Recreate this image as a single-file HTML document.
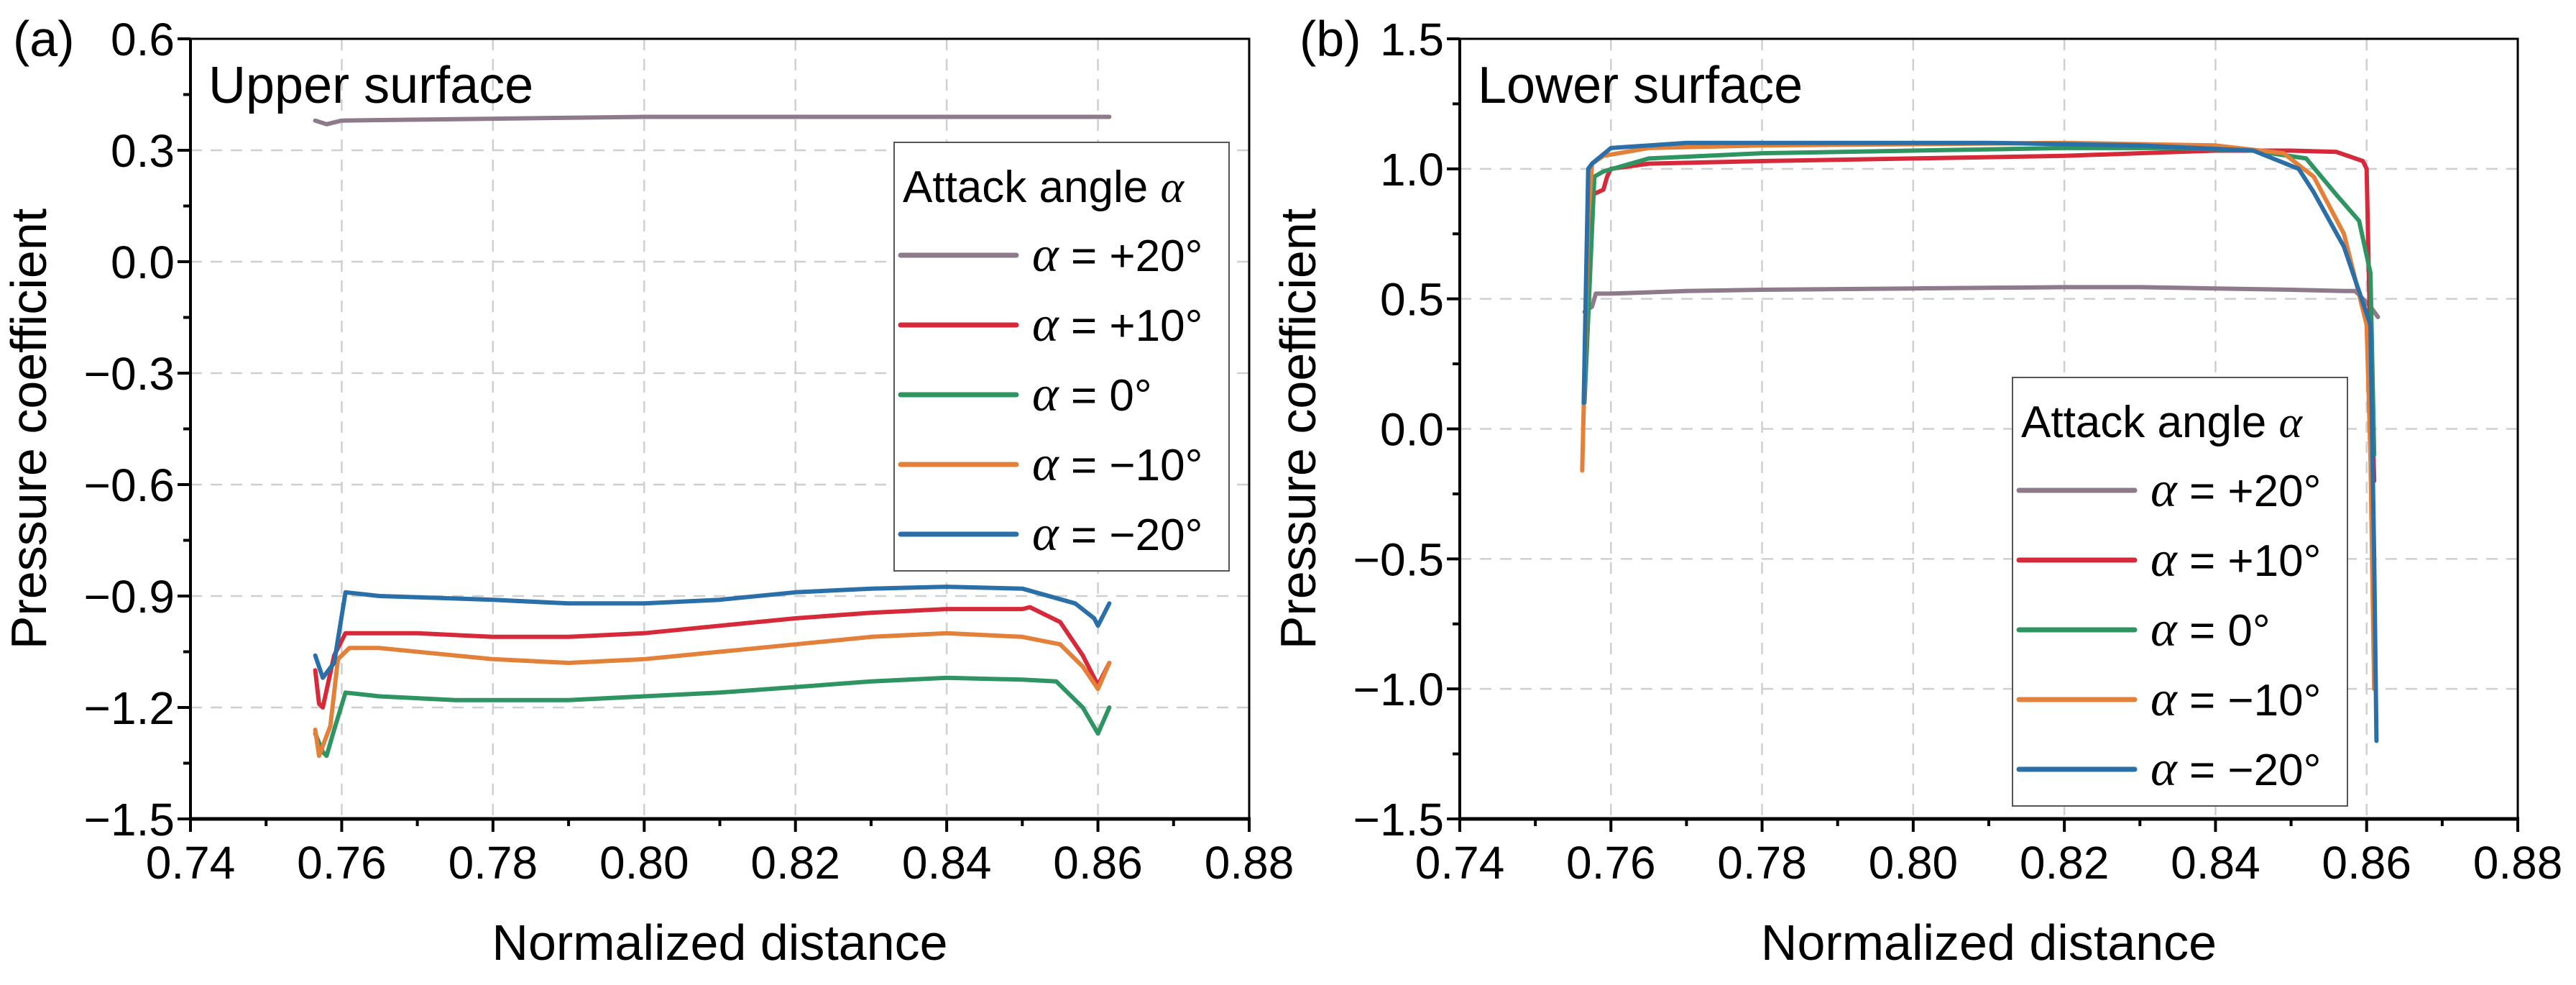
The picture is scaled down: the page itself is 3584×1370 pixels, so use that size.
<!DOCTYPE html>
<html><head><meta charset="utf-8"><style>
html,body{margin:0;padding:0;background:#fff;}
svg{display:block;font-family:"Liberation Sans",sans-serif;}
</style></head><body>
<svg id="fig" width="3584" height="1370" viewBox="0 0 3584 1370" xmlns="http://www.w3.org/2000/svg"></svg>
<script>
const seriesNames = ["α = +20°","α = +10°","α = 0°","α = −10°","α = −20°"];
const seriesColors = ["#8e7a8b","#d62a3a","#2e9462","#e3803a","#2a6fa8"];
const xTicks = [0.74,0.76,0.78,0.80,0.82,0.84,0.86,0.88];
const yTicksA = [0.6,0.3,0.0,-0.3,-0.6,-0.9,-1.2,-1.5];
const yTicksB = [1.5,1.0,0.5,0.0,-0.5,-1.0,-1.5];

// Panel (a) upper surface
const a20x=[0.7565,0.758,0.76,0.78,0.80,0.82,0.84,0.85,0.8615];
const a20y=[0.38,0.37,0.38,0.385,0.39,0.39,0.39,0.39,0.39];
const a10x=[0.7565,0.757,0.7575,0.759,0.7605,0.77,0.78,0.79,0.80,0.81,0.82,0.83,0.84,0.85,0.851,0.855,0.858,0.860,0.8615];
const a10y=[-1.10,-1.19,-1.20,-1.06,-1.00,-1.00,-1.01,-1.01,-1.00,-0.98,-0.96,-0.945,-0.935,-0.935,-0.93,-0.97,-1.06,-1.14,-1.08];
const a0x=[0.7565,0.7575,0.758,0.759,0.7605,0.765,0.775,0.78,0.79,0.80,0.81,0.82,0.83,0.84,0.85,0.8545,0.858,0.860,0.8615];
const a0y=[-1.27,-1.32,-1.33,-1.26,-1.16,-1.17,-1.18,-1.18,-1.18,-1.17,-1.16,-1.145,-1.13,-1.12,-1.125,-1.13,-1.20,-1.27,-1.20];
const am10x=[0.7565,0.757,0.7585,0.7595,0.761,0.765,0.775,0.78,0.79,0.80,0.81,0.82,0.83,0.84,0.85,0.855,0.858,0.860,0.8615];
const am10y=[-1.26,-1.33,-1.25,-1.07,-1.04,-1.04,-1.06,-1.07,-1.08,-1.07,-1.05,-1.03,-1.01,-1.00,-1.01,-1.03,-1.09,-1.15,-1.08];
const am20x=[0.7565,0.7575,0.759,0.7605,0.765,0.78,0.79,0.80,0.81,0.82,0.83,0.84,0.85,0.857,0.8595,0.860,0.8615];
const am20y=[-1.06,-1.12,-1.08,-0.89,-0.90,-0.91,-0.92,-0.92,-0.91,-0.89,-0.88,-0.875,-0.88,-0.92,-0.96,-0.98,-0.92];

// Panel (b) lower surface
const b20x=[0.7565,0.7575,0.758,0.76,0.77,0.78,0.80,0.82,0.83,0.84,0.85,0.857,0.8585,0.8605,0.8615];
const b20y=[0.45,0.47,0.52,0.52,0.53,0.535,0.54,0.545,0.545,0.54,0.535,0.53,0.53,0.47,0.43];
const b10x=[0.757,0.7575,0.759,0.7595,0.760,0.765,0.78,0.80,0.82,0.83,0.84,0.85,0.856,0.8595,0.860,0.8605,0.861];
const b10y=[0.45,0.90,0.92,0.97,1.00,1.02,1.03,1.04,1.05,1.06,1.07,1.07,1.065,1.03,1.00,0.30,-0.20];
const b0x=[0.7565,0.7578,0.759,0.765,0.78,0.80,0.82,0.835,0.845,0.852,0.856,0.859,0.8605,0.861];
const b0y=[0.10,0.97,0.99,1.04,1.06,1.07,1.08,1.08,1.07,1.04,0.90,0.80,0.60,-0.10];
const bm10x=[0.7562,0.757,0.7575,0.759,0.765,0.78,0.82,0.84,0.849,0.853,0.857,0.860,0.8605,0.861];
const bm10y=[-0.16,0.80,1.02,1.05,1.08,1.09,1.10,1.09,1.06,0.97,0.75,0.40,-0.10,-1.00];
const bm20x=[0.7564,0.757,0.7575,0.760,0.77,0.80,0.81,0.83,0.845,0.851,0.853,0.857,0.8605,0.861,0.8613];
const bm20y=[0.10,1.00,1.02,1.08,1.10,1.10,1.10,1.09,1.07,1.00,0.91,0.70,0.40,-0.50,-1.20];

const NS="http://www.w3.org/2000/svg";
const svg=document.getElementById('fig');
function mk(tag,attrs,parent){const e=document.createElementNS(NS,tag);for(const k in attrs)e.setAttribute(k,attrs[k]);(parent||svg).appendChild(e);return e;}

function panel(cfg){
  const g=mk('g',{});
  
  
  const L=cfg.left,R=cfg.right,T=54,B=1139;
  const sx=v=>L+(v-0.74)/(0.88-0.74)*(R-L);
  const sy=v=>T+(cfg.ymax-v)/(cfg.ymax-cfg.ymin)*(B-T);
  // grid
  const grid=mk('g',{},g);
  
  
  xTicks.slice(1,-1).forEach(v=>{mk('line',{x1:sx(v),x2:sx(v),y1:T,y2:B,stroke:'#cfcfcf','stroke-width':2.5,'stroke-dasharray':'16 12'},grid);});
  cfg.yTicks.slice(1,-1).forEach(v=>{mk('line',{x1:L,x2:R,y1:sy(v),y2:sy(v),stroke:'#cfcfcf','stroke-width':2.5,'stroke-dasharray':'16 12'},grid);});
  // series
  cfg.series.forEach((s,i)=>{
    const d=s[0].map((x,j)=>(j?'L':'M')+sx(x).toFixed(1)+' '+sy(s[1][j]).toFixed(1)).join(' ');
    const p=mk('path',{d:d,fill:'none',stroke:seriesColors[i],'stroke-width':6,'stroke-linejoin':'round','stroke-linecap':'round'},g);
    
    
  });
  // frame
  const fr=mk('rect',{x:L,y:T,width:R-L,height:B-T,fill:'none',stroke:'#000','stroke-width':3},g);
  
  
  mk('line',{x1:L,x2:R+2,y1:B,y2:B,stroke:'#000','stroke-width':5},g);
  mk('line',{x1:L,x2:L,y1:T,y2:B,stroke:'#000','stroke-width':4},g);
  // x ticks
  for(let k=0;k<=14;k++){const v=0.74+k*0.01;const len=(k%2===0)?18:10;
    mk('line',{x1:sx(v),x2:sx(v),y1:B,y2:B+len,stroke:'#000','stroke-width':4},g);}
  xTicks.forEach(v=>{const t=mk('text',{x:sx(v),y:1222,'font-size':64,'text-anchor':'middle',fill:'#000'},g);t.textContent=v.toFixed(2);
    
    });
  // y ticks
  const yt=cfg.yTicks;
  for(let k=0;k<yt.length;k++){mk('line',{x1:L-18,x2:L,y1:sy(yt[k]),y2:sy(yt[k]),stroke:'#000','stroke-width':4},g);
    if(k<yt.length-1){const m=(yt[k]+yt[k+1])/2;mk('line',{x1:L-10,x2:L,y1:sy(m),y2:sy(m),stroke:'#000','stroke-width':4},g);}
    const t=mk('text',{x:L-22,y:sy(yt[k])+23,'font-size':64,'text-anchor':'end',fill:'#000'},g);
    t.textContent=(yt[k]<0?'−':'')+Math.abs(yt[k]).toFixed(1);
    
    }
  // titles
  const xt=mk('text',{x:(L+R)/2,y:1335,'font-size':70,'text-anchor':'middle',fill:'#000'},g);xt.textContent='Normalized distance';
  
  
  const ytt=mk('text',{x:0,y:0,'font-size':70,'text-anchor':'middle',fill:'#000',transform:'translate('+(cfg.ytitleX)+','+((T+B)/2)+') rotate(-90)'},g);ytt.textContent='Pressure coefficient';
  
  
  const pl=mk('text',{x:cfg.labelX,y:78,'font-size':70,fill:'#000'},g);pl.textContent=cfg.label;
  
  
  const st=mk('text',{x:L+25,y:143,'font-size':72,fill:'#000'},g);st.textContent=cfg.surface;
  
  
  // legend
  const lg=mk('g',{},g);
  
  
  const lx=cfg.legX,ly=cfg.legY;
  mk('rect',{x:lx,y:ly,width:466,height:596,fill:'#fff',stroke:'#555','stroke-width':2},lg);
  const tt=mk('text',{x:lx+12,y:ly+83,'font-size':62,fill:'#000'},lg);
  tt.innerHTML='Attack angle <tspan font-family="Liberation Serif" font-style="italic">α</tspan>';
  
  
  seriesNames.forEach((n,i)=>{const cy=ly+157+i*97;
    const ln=mk('line',{x1:lx+9,x2:lx+170,y1:cy,y2:cy,stroke:seriesColors[i],'stroke-width':7,'stroke-linecap':'round'},lg);
    
    
    const t=mk('text',{x:lx+192,y:cy+22,'font-size':62,fill:'#000'},lg);
    t.innerHTML='<tspan font-family="Liberation Serif" font-style="italic" font-size="70">α</tspan>'+n.slice(1);
    
    });
}
panel({id:'panel-a-upper',left:265,right:1738,ymax:0.6,ymin:-1.5,yTicks:yTicksA,ytitleX:64,labelX:18,label:'(a)',surface:'Upper surface',legX:1244,legY:198,
  series:[[a20x,a20y],[a10x,a10y],[a0x,a0y],[am10x,am10y],[am20x,am20y]]});
panel({id:'panel-b-lower',left:2031,right:3503,ymax:1.5,ymin:-1.5,yTicks:yTicksB,ytitleX:1830,labelX:1808,label:'(b)',surface:'Lower surface',legX:2800,legY:525,
  series:[[b20x,b20y],[b10x,b10y],[b0x,b0y],[bm10x,bm10y],[bm20x,bm20y]]});
</script>
</body></html>
